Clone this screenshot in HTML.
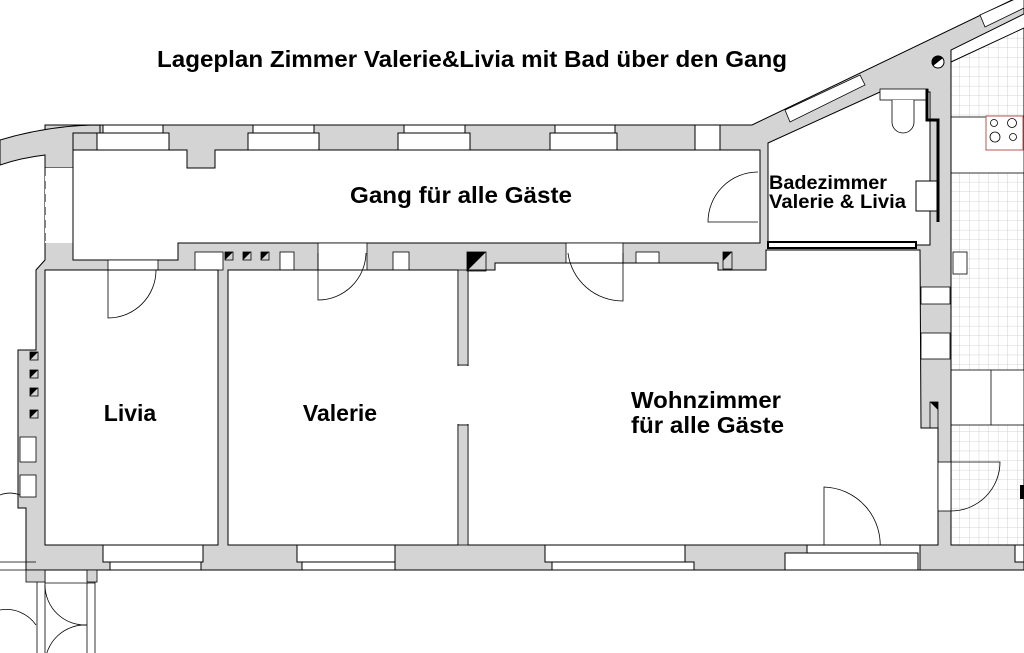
<!DOCTYPE html>
<html><head><meta charset="utf-8"><style>
html,body{margin:0;padding:0;background:#fff;}
svg{display:block;}
text{font-family:"Liberation Sans",sans-serif;font-weight:bold;fill:#000;}
</style></head><body>
<svg width="1024" height="653" viewBox="0 0 1024 653" xmlns="http://www.w3.org/2000/svg">
<defs>
<pattern id="g" width="9.6" height="9.6" patternUnits="userSpaceOnUse">
<rect width="9.6" height="9.6" fill="#fff"/>
<path d="M9.6 0V9.6M0 9.6H9.6" stroke="#c8c8c8" stroke-width="0.8" fill="none"/>
</pattern>
</defs>
<rect width="1024" height="653" fill="#fff"/>
<text x="472" y="67" font-size="23" text-anchor="middle" textLength="630" lengthAdjust="spacingAndGlyphs">Lageplan Zimmer Valerie&amp;Livia mit Bad über den Gang</text>

<!-- tiled area right -->
<polygon points="951,62 1024,28 1024,545 951,545" fill="url(#g)" stroke="#000" stroke-width="1"/>
<rect x="951" y="117" width="73" height="56" fill="#fff" stroke="#000" stroke-width="0.8"/>
<rect x="951" y="370" width="73" height="55" fill="#fff" stroke="#000" stroke-width="0.8"/>
<line x1="991" y1="370" x2="991" y2="425" stroke="#000" stroke-width="0.8"/>
<rect x="986" y="116" width="37" height="34" fill="#fff" stroke="#b55" stroke-width="1"/>
<circle cx="994" cy="123" r="3.5" fill="none" stroke="#000" stroke-width="0.8"/>
<circle cx="1012" cy="123" r="4.5" fill="none" stroke="#000" stroke-width="0.8"/>
<circle cx="995" cy="137" r="5" fill="none" stroke="#000" stroke-width="0.8"/>
<circle cx="1013" cy="137" r="3.5" fill="none" stroke="#000" stroke-width="0.8"/>
<rect x="1020" y="485" width="4" height="14" fill="#000"/>

<!-- main gray mass -->
<polygon points="45,125 752,125 1012,0 1024,0 1024,14 951,50 951,545 1024,545 1024,570 26,570 26,508 18,508 18,350 36,350 36,270 45,260" fill="#d4d4d4" stroke="#000" stroke-width="1"/>
<!-- left curved wall -->
<path d="M0,140 Q50,125 100,125 L100,133 L73,133 L73,168 L45,168 L45,155 Q20,158 0,165 Z" fill="#d4d4d4" stroke="#000" stroke-width="1"/>
<rect x="45" y="168" width="28" height="75" fill="#fff"/>
<line x1="45" y1="168" x2="45" y2="243" stroke="#000" stroke-dasharray="8,5"/>
<line x1="73" y1="168" x2="73" y2="243" stroke="#000" stroke-dasharray="8,5"/>

<!-- top diagonal windows -->
<polygon points="785,110 860,75 865,85 790,122" fill="#fff" stroke="#000" stroke-width="0.8"/>
<polygon points="980,15 1024,-5 1024,8 985,27" fill="#fff" stroke="#000" stroke-width="0.8"/>

<!-- top windows -->
<g fill="#fff" stroke="#000" stroke-width="1">
<rect x="103" y="125" width="60" height="8"/><rect x="97" y="133" width="72" height="17"/>
<rect x="253" y="125" width="61" height="8"/><rect x="248" y="133" width="71" height="17"/>
<rect x="404" y="125" width="61" height="8"/><rect x="398" y="133" width="72" height="17"/>
<rect x="555" y="125" width="60" height="8"/><rect x="550" y="133" width="67" height="17"/>
<rect x="695" y="125" width="25" height="25"/>
</g>

<!-- Gang -->
<polygon points="73,150 187,150 187,168 215,168 215,150 760,150 760,243 178,243 178,260 73,260 73,243 73,150" fill="#fff" stroke="#000" stroke-width="1"/>
<rect x="46" y="168" width="26" height="74" fill="#fff"/>
<line x1="45" y1="168" x2="45" y2="243" stroke="#000" stroke-dasharray="8,5"/>
<line x1="73" y1="168" x2="73" y2="243" stroke="#000" stroke-dasharray="8,5"/>
<path d="M758,222 L708,222 A50,50 0 0 1 758,172" fill="none" stroke="#000" stroke-width="0.8"/>

<!-- corridor wall openings -->
<g fill="#fff" stroke="#000" stroke-width="0.8">
<rect x="108" y="260" width="50" height="10"/>
<rect x="195" y="252" width="28" height="18"/>
<rect x="280" y="252" width="14" height="18"/>
<rect x="318" y="243" width="49" height="27"/>
<rect x="393" y="252" width="16" height="18"/>
<rect x="566" y="243" width="57" height="27"/>
<rect x="636" y="252" width="23" height="18"/>
</g>

<!-- rooms -->
<rect x="45" y="270" width="173" height="275" fill="#fff" stroke="#000"/>
<rect x="228" y="270" width="230" height="275" fill="#fff" stroke="#000"/>
<polygon points="468,270 495,270 495,263 718,263 718,270 766,270 766,250 920,250 921,428 938,428 938,545 468,545" fill="#fff" stroke="#000"/>
<rect x="458" y="270" width="10" height="95" fill="#d4d4d4" stroke="#000" stroke-width="0.8"/>
<rect x="458" y="425" width="10" height="120" fill="#d4d4d4" stroke="#000" stroke-width="0.8"/>
<rect x="457" y="366" width="12" height="58" fill="#fff"/>

<g fill="#000">
<polygon points="225,252 233,252 225,260"/><rect x="225" y="252" width="8" height="8" fill="none" stroke="#000" stroke-width="0.8"/>
<polygon points="243,252 251,252 243,260"/><rect x="243" y="252" width="8" height="8" fill="none" stroke="#000" stroke-width="0.8"/>
<polygon points="261,252 269,252 261,260"/><rect x="261" y="252" width="8" height="8" fill="none" stroke="#000" stroke-width="0.8"/>
<polygon points="467,252 486,252 467,271"/><rect x="467" y="252" width="19" height="19" fill="none" stroke="#000" stroke-width="0.8"/>
<polygon points="723,252 732,252 723,261"/><rect x="723" y="252" width="9" height="17" fill="none" stroke="#000" stroke-width="0.8"/>
<polygon points="30,352 38,352 30,360"/><rect x="30" y="352" width="8" height="8" fill="none" stroke="#000" stroke-width="0.8"/>
<polygon points="30,370 38,370 30,378"/><rect x="30" y="370" width="8" height="8" fill="none" stroke="#000" stroke-width="0.8"/>
<polygon points="30,388 38,388 30,396"/><rect x="30" y="388" width="8" height="8" fill="none" stroke="#000" stroke-width="0.8"/>
<polygon points="30,410 38,410 30,418"/><rect x="30" y="410" width="8" height="8" fill="none" stroke="#000" stroke-width="0.8"/>
<polygon points="930,402 938,402 938,410"/><rect x="930" y="402" width="8" height="26" fill="none" stroke="#000" stroke-width="0.8"/>
</g>
<rect x="20" y="437" width="16" height="25" fill="#fff" stroke="#000" stroke-width="0.8"/>
<rect x="20" y="475" width="16" height="22" fill="#fff" stroke="#000" stroke-width="0.8"/>

<!-- doors -->
<path d="M108,270 L108,318 A48,48 0 0 0 156,270" fill="none" stroke="#000" stroke-width="0.8"/>
<path d="M318,253 L318,300 A48,48 0 0 0 366,253" fill="none" stroke="#000" stroke-width="0.8"/>
<path d="M623,253 L623,301 A55,55 0 0 1 568,253" fill="none" stroke="#000" stroke-width="0.8"/>
<path d="M824,550 L824,487 A58,58 0 0 1 880,550" fill="none" stroke="#000" stroke-width="0.8"/>
<path d="M951,462 L1000,462 A49,49 0 0 1 951,511" fill="none" stroke="#000" stroke-width="0.8"/>
<rect x="938" y="462" width="13" height="49" fill="#fff" stroke="#000" stroke-width="0.8"/>

<!-- right column openings -->
<rect x="921" y="287" width="29" height="17" fill="#fff" stroke="#000" stroke-width="0.8"/>
<rect x="921" y="333" width="29" height="26" fill="#fff" stroke="#000" stroke-width="0.8"/>
<rect x="953" y="252" width="14" height="22" fill="#fff" stroke="#000" stroke-width="0.8"/>

<!-- bathroom -->
<polygon points="768,143 880,92 930,92 930,245 768,245" fill="#fff" stroke="#000"/>
<rect x="880" y="89" width="48" height="11" fill="#fff" stroke="#000" stroke-width="0.8"/>
<path d="M892,100 L892,122 A11,11 0 0 0 914,122 L914,100" fill="#fff" stroke="#000" stroke-width="0.8"/>
<path d="M927,89 L927,120 L938,120 L938,222" fill="none" stroke="#000" stroke-width="3"/>
<rect x="916" y="181" width="21" height="30" fill="#fff" stroke="#000" stroke-width="1"/>
<rect x="768" y="242" width="148" height="6" fill="#fff" stroke="#000" stroke-width="2"/>
<circle cx="938" cy="62" r="6" fill="#fff" stroke="#000"/>
<path d="M933,66 A6,6 0 0 1 943,58 Z" fill="#000"/>

<!-- bottom windows -->
<g fill="#fff" stroke="#000" stroke-width="1">
<rect x="103" y="545" width="100" height="17"/><rect x="110" y="562" width="91" height="8"/>
<rect x="297" y="545" width="98" height="17"/><rect x="302" y="562" width="93" height="8"/>
<rect x="545" y="545" width="140" height="17"/><rect x="552" y="562" width="142" height="8"/>
<rect x="807" y="545" width="113" height="25"/><rect x="785" y="553" width="133" height="17"/>
<rect x="1015" y="545" width="9" height="17"/>
</g>

<!-- below -->
<g fill="none" stroke="#000" stroke-width="0.8">
<line x1="0" y1="570" x2="1024" y2="570"/>
<line x1="0" y1="562" x2="36" y2="562"/>
<line x1="37" y1="570" x2="37" y2="653"/>
<line x1="45" y1="570" x2="45" y2="653"/>
<line x1="87" y1="583" x2="87" y2="653"/>
<line x1="95" y1="570" x2="95" y2="653"/>
<line x1="45" y1="583" x2="95" y2="583"/>
<path d="M45,585 A40,40 0 0 0 87,625"/>
<path d="M87,625 A40,40 0 0 0 45,665"/>
<path d="M0,610 A36,36 0 0 1 36,625"/>
<path d="M0,495 A28,28 0 0 1 20,495"/>
</g>
<rect x="26" y="570" width="19" height="12" fill="#d4d4d4" stroke="#000" stroke-width="0.8"/>
<rect x="87" y="570" width="10" height="12" fill="#d4d4d4" stroke="#000" stroke-width="0.8"/>

<!-- labels -->
<text x="461" y="203" font-size="23" text-anchor="middle" textLength="222" lengthAdjust="spacingAndGlyphs">Gang für alle Gäste</text>
<text x="130" y="421" font-size="23" text-anchor="middle">Livia</text>
<text x="340" y="421" font-size="23" text-anchor="middle">Valerie</text>
<text x="631" y="408" font-size="23" textLength="150" lengthAdjust="spacingAndGlyphs">Wohnzimmer</text>
<text x="631" y="433" font-size="23" textLength="153" lengthAdjust="spacingAndGlyphs">für alle Gäste</text>
<text x="769" y="189" font-size="19" textLength="118" lengthAdjust="spacingAndGlyphs">Badezimmer</text>
<text x="769" y="208" font-size="19" textLength="137" lengthAdjust="spacingAndGlyphs">Valerie &amp; Livia</text>
</svg>
</body></html>
